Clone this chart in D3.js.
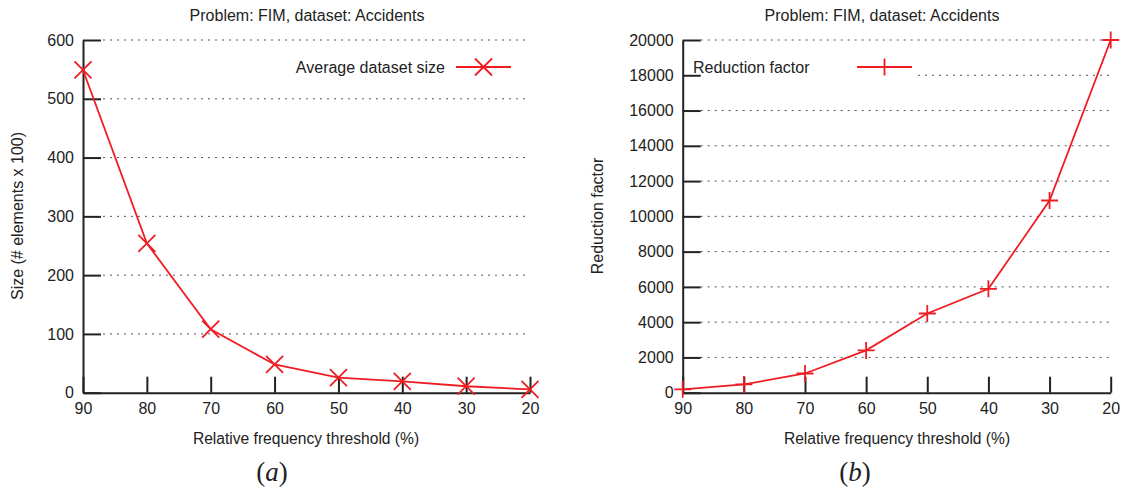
<!DOCTYPE html>
<html>
<head>
<meta charset="utf-8">
<script src="https://cdn.jsdelivr.net/npm/d3@7"></script>
<style>
  body { margin: 0; background: #fff; }
  svg { display: block; font-family: "Liberation Sans", Arial, sans-serif; }
</style>
</head>
<body>
<svg id="chart" width="1125" height="490"></svg>
<script>
// ---- Data ----
const thresholds = [90, 80, 70, 60, 50, 40, 30, 20];
const avgDatasetSize = [549, 254, 108, 48, 25.5, 19.3, 11, 5.5];
const reductionFactor = [190, 470, 1090, 2400, 4490, 5890, 10900, 20000];
const sizeTicks = [0, 100, 200, 300, 400, 500, 600];
const reductionTicks = [0, 2000, 4000, 6000, 8000, 10000, 12000, 14000, 16000, 18000, 20000];
const chartTitle = "Problem: FIM, dataset: Accidents";
const xLabel = "Relative frequency threshold (%)";

const RED = "#ee1d23";
const INK = "#222";
const svg = d3.select("#chart");

function drawPanel(opt) {
  const g = svg.append("g");
  const x = d3.scaleLinear().domain([90, 20]).range([opt.x0, opt.x1]);
  const y = d3.scaleLinear().domain(opt.yDomain).range([392.7, 40]);

  // grid
  g.append("g").selectAll("line").data(opt.yTicks.filter(d => d > 0)).join("line")
    .attr("x1", d => (opt.gridSkip && opt.gridSkip.v === d) ? opt.gridSkip.from : opt.x0 + opt.gridStart)
    .attr("x2", opt.gridEnd)
    .attr("y1", d => y(d)).attr("y2", d => y(d))
    .attr("stroke", "#555").attr("stroke-width", 1).attr("stroke-dasharray", "2,5");

  // y axis
  const ya = g.append("g").attr("transform", `translate(${opt.x0},0)`)
    .call(d3.axisLeft(y).tickValues(opt.yTicks).tickFormat(d3.format("d"))
      .tickSize(-18).tickSizeOuter(0).tickPadding(9));
  ya.select(".domain").attr("stroke", INK).attr("stroke-width", 2);
  ya.selectAll(".tick line").attr("stroke", INK).attr("stroke-width", 2);
  ya.selectAll(".tick text").attr("fill", INK).style("font-size", "16px")
    .style("font-family", "'Liberation Sans', Arial, sans-serif");

  // x axis
  const xa = g.append("g").attr("transform", `translate(0,392.7)`)
    .call(d3.axisBottom(x).tickValues(thresholds).tickFormat(d3.format("d"))
      .tickSize(-16).tickSizeOuter(0).tickPadding(10));
  xa.select(".domain").attr("stroke", INK).attr("stroke-width", 2);
  xa.selectAll(".tick line").attr("stroke", INK).attr("stroke-width", 2);
  xa.selectAll(".tick text").attr("fill", INK).style("font-size", "16px")
    .style("font-family", "'Liberation Sans', Arial, sans-serif");

  // line
  const pts = thresholds.map((t, i) => [x(t), y(opt.values[i])]);
  g.append("path").datum(pts)
    .attr("d", d3.line())
    .attr("fill", "none").attr("stroke", RED).attr("stroke-width", 1.8);

  const marker = (sel, cx, cy) => {
    const s = opt.markerSize;
    const d = opt.marker === "x"
      ? `M${cx - s},${cy - s}L${cx + s},${cy + s}M${cx - s},${cy + s}L${cx + s},${cy - s}`
      : `M${cx - s},${cy}L${cx + s},${cy}M${cx},${cy - s}L${cx},${cy + s}`;
    sel.append("path").attr("d", d).attr("stroke", RED).attr("stroke-width", 1.8).attr("fill", "none");
  };
  pts.forEach(p => marker(g, p[0], p[1]));

  // legend
  const L = opt.legend;
  g.append("text").attr("x", L.textX).attr("y", L.y).attr("dy", "0.35em")
    .attr("text-anchor", L.anchor).attr("fill", INK).style("font-size", "16px")
    .text(L.text);
  g.append("line").attr("x1", L.lx1).attr("x2", L.lx2).attr("y1", L.y).attr("y2", L.y)
    .attr("stroke", RED).attr("stroke-width", 1.8);
  marker(g, (L.lx1 + L.lx2) / 2, L.y);

  // title
  g.append("text").attr("x", opt.titleX).attr("y", 21).attr("text-anchor", "middle")
    .attr("fill", INK).style("font-size", "16px").text(chartTitle);
  // x label
  g.append("text").attr("x", opt.xLabelX).attr("y", 444).attr("text-anchor", "middle")
    .attr("fill", INK).style("font-size", "15.6px").text(xLabel);
  // y label
  g.append("text").attr("transform", `translate(${opt.yLabelX},${216}) rotate(-90)`)
    .attr("text-anchor", "middle").attr("fill", INK).style("font-size", "16px").text(opt.yLabel);
  // sub caption: upright parens, italic letter
  const cap = g.append("text").attr("x", opt.capX).attr("y", 481).attr("text-anchor", "middle")
    .attr("fill", INK).style("font-family", "'Liberation Serif', 'DejaVu Serif', serif")
    .style("font-size", "27px");
  cap.append("tspan").text("(");
  cap.append("tspan").style("font-style", "italic").text(opt.caption);
  cap.append("tspan").text(")");
}

drawPanel({
  x0: 83, x1: 530, yDomain: [0, 600], yTicks: sizeTicks, values: avgDatasetSize,
  gridStart: 20, gridEnd: 527, marker: "x", markerSize: 8.5,
  legend: { text: "Average dataset size", textX: 445, anchor: "end", y: 67, lx1: 456, lx2: 511 },
  titleX: 307, xLabelX: 306, yLabelX: 23, yLabel: "Size (# elements x 100)",
  capX: 272, caption: "a"
});

drawPanel({
  x0: 682.7, x1: 1110.7, yDomain: [0, 20000], yTicks: reductionTicks, values: reductionFactor,
  gridStart: 18, gridEnd: 1110, marker: "+", markerSize: 8.5,
  gridSkip: { v: 18000, from: 918 },
  legend: { text: "Reduction factor", textX: 693, anchor: "start", y: 67, lx1: 857, lx2: 912 },
  titleX: 882, xLabelX: 897, yLabelX: 603, yLabel: "Reduction factor",
  capX: 855, caption: "b"
});
</script>
</body>
</html>
